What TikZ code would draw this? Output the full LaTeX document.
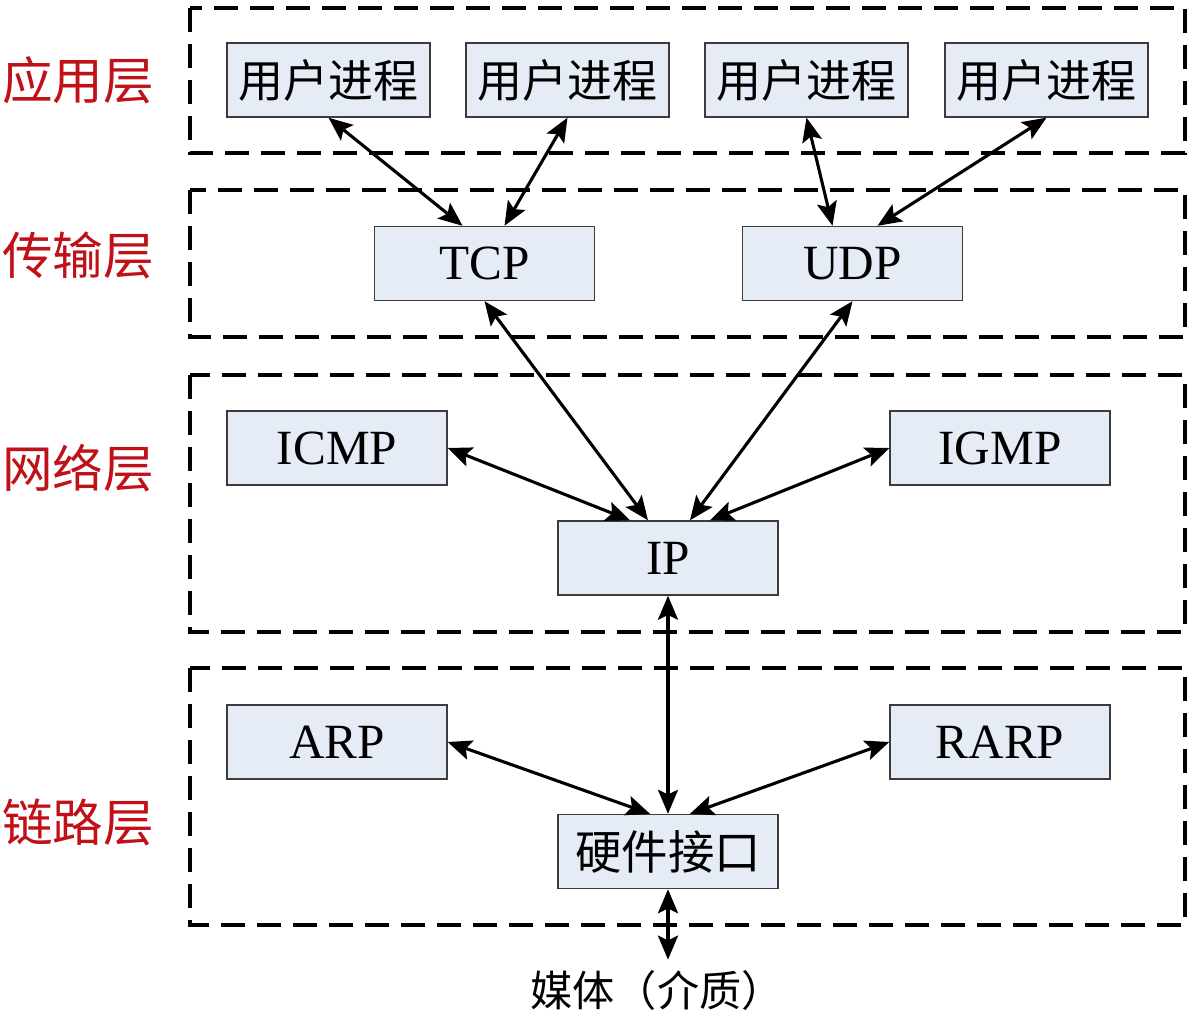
\documentclass[tikz,border=0pt]{standalone}
\usepackage{fontspec}
\setmainfont{Liberation Serif}
\newfontfamily\cjk{Noto Sans CJK SC}
\usepackage{tikz}
\usetikzlibrary{arrows.meta,calc}
\definecolor{boxfill}{RGB}{230,236,246}
\definecolor{boxline}{RGB}{60,60,60}
\definecolor{layerred}{RGB}{192,16,24}
\def\Proc{{\cjk 用户进程}}

\begin{document}
\begin{tikzpicture}[% one unit is one pixel of the reference
			x=0.25mm,y=-0.25mm,
			>={Stealth[length=6mm,width=5mm,inset=1.2mm]},
			every node/.style={
				align=center,		% so that "\\" works
				inner sep=0pt
			},
			procbox/.style={rectangle,draw=boxline,line width=1pt,fill=boxfill,
				minimum width=50.75mm,minimum height=18.5mm,font=\fontsize{32}{36}\selectfont},
			protobox/.style={procbox,minimum width=55mm,font=\fontsize{35}{40}\selectfont},
			layername/.style={text=layerred,font=\cjk\fontsize{36}{40}\selectfont},
			layerbox/.style={draw,line width=2.6pt,dash pattern=on 6mm off 3mm},
			every edge/.style={draw,line width=2.2pt}
		]
		\useasboundingbox (0,0) rectangle (1188,1016);
		% the four layers
		\draw[layerbox] (190,8) rectangle (1185,153);
		\draw[layerbox] (190,190) rectangle (1185,337);
		\draw[layerbox] (190,375) rectangle (1185,632);
		\draw[layerbox] (190,668) rectangle (1185,925);
		\node[layername](L1) at (78,80){应用层};
		\node[layername](L2) at (78,255){传输层};
		\node[layername](L3) at (78,468){网络层};
		\node[layername](L4) at (78,822){链路层};
		% boxes
		\node[procbox](UP1) at (328.5,80){\Proc};
		\node[procbox](UP2) at (567.5,80){\Proc};
		\node[procbox](UP3) at (806.5,80){\Proc};
		\node[procbox](UP4) at (1046.5,80){\Proc};
		\node[protobox](TCP) at (484.5,263.5){TCP};
		\node[protobox](UDP) at (852.5,263.5){UDP};
		\node[protobox](ICMP) at (337,448){ICMP};
		\node[protobox](IGMP) at (1000,448){IGMP};
		\node[protobox](IP) at (668,558){IP};
		\node[protobox](ARP) at (337,742){ARP};
		\node[protobox](RARP) at (1000,742){RARP};
		\node[protobox,font=\cjk\fontsize{33}{36}\selectfont](HW) at (668,851.5){硬件接口};
		\node[inner sep=2.5mm,font=\cjk\fontsize{30}{34}\selectfont](MED) at (657,990){媒体（介质）};
		\path[<->]
		(UP1.south) edge ($(TCP.north)+(-22,0)$)
		(UP2.south) edge ($(TCP.north)+(20,0)$)
		(UP3.south) edge ($(UDP.north)+(-20,0)$)
		(UP4.south) edge ($(UDP.north)+(25,0)$)
		(TCP.south) edge ($(IP.north)+(-20,0)$)
		(UDP.south) edge ($(IP.north)+(22,0)$)
		(ICMP.east) edge ($(IP.north)+(-38,0)$)
		(IGMP.west) edge ($(IP.north)+(42,0)$)
		(IP.south) edge (HW.north)
		(ARP.east) edge ($(HW.north)+(-18,0)$)
		(RARP.west) edge ($(HW.north)+(22,0)$)
		(HW.south) edge (HW.south |- MED.north)
		;
	\end{tikzpicture}
\end{document}
